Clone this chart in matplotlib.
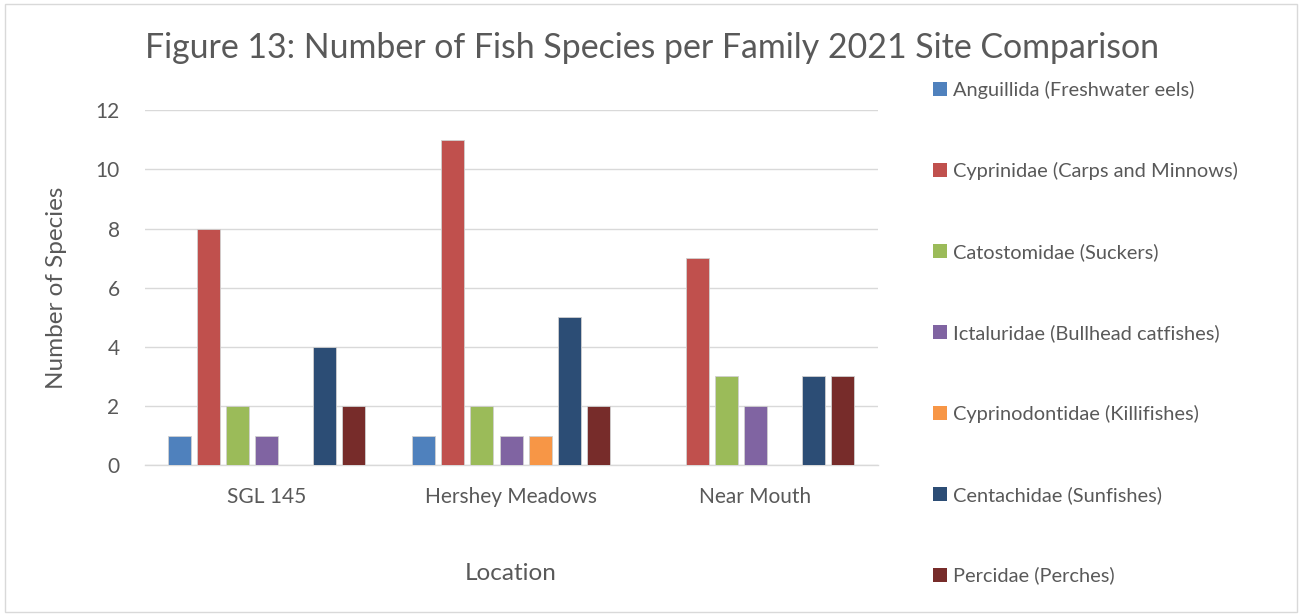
import matplotlib
matplotlib.use('Agg')
import matplotlib.pyplot as plt
from matplotlib.patches import Rectangle
import numpy as np

plt.rcParams['font.family'] = ['Lato', 'DejaVu Sans']

locations = ['SGL 145', 'Hershey Meadows', 'Near Mouth']
families = ['Anguillida (Freshwater eels)', 'Cyprinidae (Carps and Minnows)',
            'Catostomidae (Suckers)', 'Ictaluridae (Bullhead catfishes)',
            'Cyprinodontidae (Killifishes)', 'Centachidae (Sunfishes)',
            'Percidae (Perches)']
counts = [
    [1, 1, 0],
    [8, 11, 7],
    [2, 2, 3],
    [1, 1, 2],
    [0, 1, 0],
    [4, 5, 3],
    [2, 2, 3],
]
colors = ['#4F81BD', '#C0504D', '#9BBB59', '#8064A2', '#F79646', '#2C4D75', '#772C2A']
yticks = [0, 2, 4, 6, 8, 10, 12]

txt = '#595959'
fig = plt.figure(figsize=(13.02, 6.16), dpi=100)
fig.patches.append(Rectangle((0.004, 0.006), 0.992, 0.988, transform=fig.transFigure,
                             fill=False, edgecolor='#D9D9D9', linewidth=1.0))

ax = fig.add_axes([0.111, 0.245, 0.563, 0.576])
x = np.arange(len(locations))
step = 0.119
width = 0.094
for i, (fam, vals) in enumerate(zip(families, counts)):
    ax.bar(x + (i - 3) * step, vals, width, color=colors[i], label=fam,
           edgecolor='#D0D0D0', linewidth=0.6, zorder=3)

ax.set_xlim(-0.5, 2.5)
ax.set_ylim(0, 12)
ax.set_yticks(yticks)
ax.set_xticks(x)
ax.set_xticklabels(locations)
ax.yaxis.grid(True, color='#D9D9D9', linewidth=1.0, zorder=0)
for s in ['top', 'right', 'left']:
    ax.spines[s].set_visible(False)
ax.spines['bottom'].set_color('#D9D9D9')
ax.spines['bottom'].set_linewidth(1.0)
ax.tick_params(axis='both', length=0, labelsize=15, colors=txt)
ax.tick_params(axis='y', pad=18)
ax.tick_params(axis='x', pad=16)

ax.set_ylabel('Number of Species', fontsize=17.5, color=txt, labelpad=20)
ax.set_xlabel('Location', fontsize=17.5, color=txt, labelpad=40)
fig.text(0.111, 0.922, 'Figure 13: Number of Fish Species per Family 2021 Site Comparison',
         fontsize=24.4, color=txt, ha='left', va='center')

leg = fig.legend(loc='upper left', bbox_to_anchor=(0.703, 0.898), frameon=False,
                 fontsize=14.4, handlelength=0.7, handleheight=0.7,
                 handletextpad=0.3, labelspacing=3.15)
for t in leg.get_texts():
    t.set_color(txt)
for h in leg.legend_handles:
    h.set_edgecolor('none')

fig.savefig('out.png', dpi=100)
